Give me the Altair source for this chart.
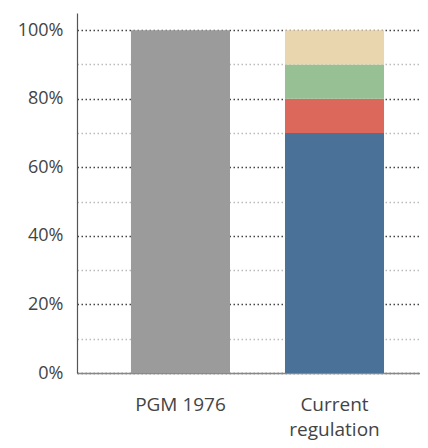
import altair as alt
import pandas as pd

categories = ["PGM 1976", "Current regulation", "Current regulation", "Current regulation", "Current regulation"]
segments = ["PGM", "Base", "Seg2", "Seg3", "Seg4"]
values = [1.00, 0.70, 0.10, 0.10, 0.10]
order = [0, 0, 1, 2, 3]
seg_domain = ["PGM", "Base", "Seg2", "Seg3", "Seg4"]
seg_colors = ["#9b9b9b", "#4a7298", "#dc685c", "#98c095", "#e9d5ae"]
y_ticks = [0, 0.1, 0.2, 0.3, 0.4, 0.5, 0.6, 0.7, 0.8, 0.9, 1.0]

df = pd.DataFrame({"cat": categories, "seg": segments, "val": values, "ord": order})

chart = alt.Chart(df).mark_bar().encode(
    x=alt.X("cat:N", sort=["PGM 1976", "Current regulation"], title=None,
            scale=alt.Scale(paddingInner=0.357, paddingOuter=0.292, align=0.6),
            axis=alt.Axis(labelAngle=0, ticks=False, labelPadding=22, labelFontSize=19,
                          labelColor="#444", labelFont="Open Sans", labelFontWeight=500,
                          domainColor="#888", domainWidth=1.5, labelLineHeight=25,
                          labelExpr="split(datum.label, ' ')[0] == 'Current' ? ['Current', 'regulation'] : datum.label")),
    y=alt.Y("val:Q", stack="zero", title=None,
            scale=alt.Scale(domain=[0, 1.05], nice=False),
            axis=alt.Axis(values=y_ticks, ticks=False, labelPadding=14, labelFontSize=18,
                          labelColor="#444", labelFont="Open Sans", labelFontWeight=500,
                          minExtent=69, maxExtent=69,
                          domainColor="#555", domainWidth=1.2,
                          labelExpr="round(datum.value*100) % 20 == 0 ? round(datum.value*100) + '%' : ''",
                          gridDash=[1.5, 2.5], gridWidth=1.5,
                          gridColor={"condition": {"test": "round(datum.value*10) % 2 == 0", "value": "#444"},
                                     "value": "#bbb"})),
    color=alt.Color("seg:N", scale=alt.Scale(domain=seg_domain, range=seg_colors), legend=None),
    order=alt.Order("ord:Q"),
).properties(
    width=343, height=360,
    padding={"left": 0, "right": 0, "top": 5, "bottom": 5},
).configure_view(stroke=None)

chart.save("out.html", embed_options={"renderer": "svg", "actions": False})
